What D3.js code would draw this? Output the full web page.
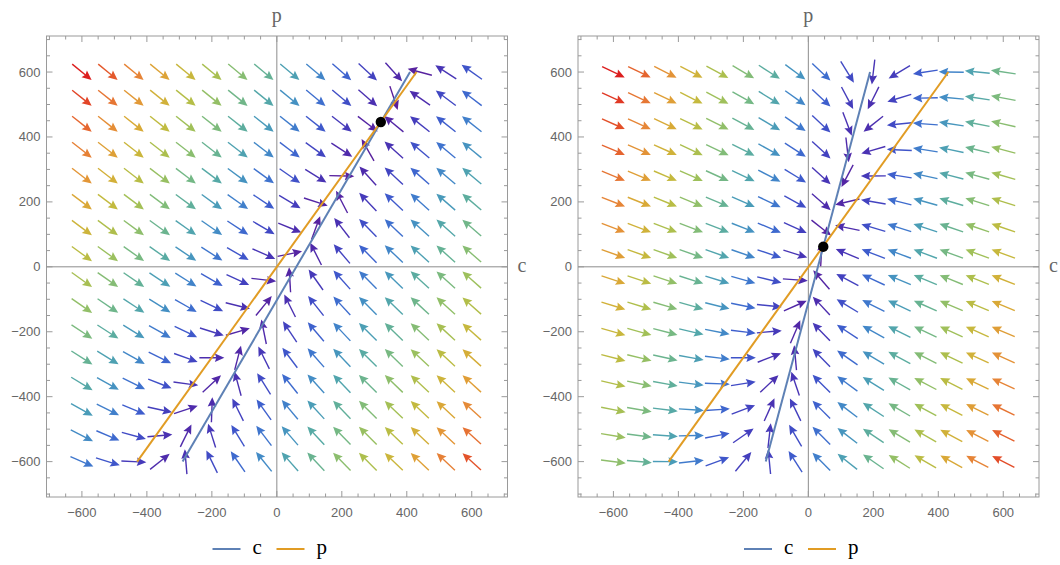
<!DOCTYPE html>
<html>
<head>
<meta charset="utf-8">
<script src="https://cdn.jsdelivr.net/npm/d3@7"></script>
<style>
  html, body { margin: 0; padding: 0; background: #fff; }
  svg { display: block; }
</style>
</head>
<body>
<svg id="chart" width="1060" height="565"></svg>
<script>
// Grid of sample points for the direction field (both axes)
const gridValues = [-600, -520, -440, -360, -280, -200, -120, -40, 40, 120, 200, 280, 360, 440, 520, 600];
// Axis tick labels
const tickValues = [-600, -400, -200, 0, 200, 400, 600];

// Nullcline of c (dc/dt = 0): endpoints [c, p]
const cNullclineLeft  = [[-290, -600], [410, 600]];
const cNullclineRight = [[-131, -600], [190, 600]];
// Nullcline of p (dp/dt = 0): endpoints [c, p]
const pNullclineLeft  = [[-430, -600], [430, 600]];
const pNullclineRight = [[-430, -600], [431, 600]];
// Equilibria [c, p]
const equilibriumLeft  = [320, 446];
const equilibriumRight = [46, 62];
// Relative speed of p against c
const pRateLeft  = [0.57];
const pRateRight = [0.26];

const panels = [
  { x0: 46.5, cNull: cNullclineLeft,  pNull: pNullclineLeft,  eq: equilibriumLeft,  rate: pRateLeft[0] },
  { x0: 578,  cNull: cNullclineRight, pNull: pNullclineRight, eq: equilibriumRight, rate: pRateRight[0] }
];

const W = 461, H = 461, plotTop = 36;
const svg = d3.select("#chart");

// Rainbow colour ramp (low speed = violet, high speed = red)
const rainbow = d3.interpolateRgbBasis([
  "#5a1f9b", "#4a2db0", "#3f4cc8", "#3d6cd2", "#4390c6", "#4fa6ae", "#6ab58f",
  "#8ec06c", "#aec04a", "#cdb83a", "#e0a235", "#e8843a", "#e55b2b", "#dc1f1f"
]);

// c on a straight line through two [c, p] points, as a function of p
function lineC(pts, p) {
  const [a, b] = pts;
  return a[0] + (p - a[1]) * (b[0] - a[0]) / (b[1] - a[1]);
}

panels.forEach(pn => {
  const g = svg.append("g").attr("transform", `translate(${pn.x0},${plotTop})`);
  const x = d3.scaleLinear().domain([-709, 710]).range([0, W]);
  const y = d3.scaleLinear().domain([-709, 711]).range([H, 0]);

  // frame
  g.append("rect").attr("width", W).attr("height", H)
    .attr("fill", "none").attr("stroke", "#9a9a9a").attr("stroke-width", 1);

  // zero axes
  g.append("line").attr("x1", x(0)).attr("x2", x(0)).attr("y1", 0).attr("y2", H)
    .attr("stroke", "#8c8c8c").attr("stroke-width", 1);
  g.append("line").attr("x1", 0).attr("x2", W).attr("y1", y(0)).attr("y2", y(0))
    .attr("stroke", "#8c8c8c").attr("stroke-width", 1);

  // frame ticks: major every 200, minor every 50
  const minor = d3.range(-700, 701, 50);
  const tk = g.append("g").attr("stroke", "#9a9a9a").attr("stroke-width", 1);
  minor.forEach(v => {
    const len = (v % 200 === 0) ? 6 : 3.5;
    const px = x(v), py = y(v);
    tk.append("line").attr("x1", px).attr("x2", px).attr("y1", H).attr("y2", H - len);
    tk.append("line").attr("x1", px).attr("x2", px).attr("y1", 0).attr("y2", len);
    tk.append("line").attr("x1", 0).attr("x2", len).attr("y1", py).attr("y2", py);
    tk.append("line").attr("x1", W).attr("x2", W - len).attr("y1", py).attr("y2", py);
  });

  const fmt = v => (v < 0 ? "\u2212" + Math.abs(v) : String(v));
  tickValues.forEach(v => {
    g.append("text").attr("x", x(v)).attr("y", H + 20)
      .attr("text-anchor", "middle").attr("fill", "#666")
      .style("font", "13px 'Liberation Sans', Arial, sans-serif").text(fmt(v));
    g.append("text").attr("x", -6).attr("y", y(v) + 4.5)
      .attr("text-anchor", "end").attr("fill", "#666")
      .style("font", "13px 'Liberation Sans', Arial, sans-serif").text(fmt(v));
  });

  // axis labels
  g.append("text").attr("x", x(0)).attr("y", -14).attr("text-anchor", "middle")
    .attr("fill", "#666").style("font", "20px 'Liberation Serif', 'Times New Roman', serif").text("p");
  g.append("text").attr("x", W + 10).attr("y", y(0) + 5).attr("text-anchor", "start")
    .attr("fill", "#666").style("font", "20px 'Liberation Serif', 'Times New Roman', serif").text("c");

  // direction field
  const pSlope = (pn.pNull[1][1] - pn.pNull[0][1]) / (pn.pNull[1][0] - pn.pNull[0][0]);
  const vecs = [];
  gridValues.forEach(c => gridValues.forEach(p => {
    const dc = -(c - lineC(pn.cNull, p));
    const pOnNull = pn.pNull[0][1] + (c - pn.pNull[0][0]) * pSlope;
    const dp = -pn.rate * (p - pOnNull);
    vecs.push({ c, p, dc, dp, n: Math.hypot(dc, dp) });
  }));
  const nExt = d3.extent(vecs, d => d.n);
  const col = d3.scaleLinear().domain(nExt).range([0, 1]);

  const L = 25, headL = 9.5, headW = 4.3;
  const field = g.append("g");
  vecs.forEach(v => {
    const ux0 = v.dc, uy0 = -v.dp;
    const m = Math.hypot(ux0, uy0) || 1;
    const ux = ux0 / m, uy = uy0 / m;
    const cx = x(v.c), cy = y(v.p);
    const tx = cx - ux * L / 2, ty = cy - uy * L / 2;
    const hx = cx + ux * L / 2, hy = cy + uy * L / 2;
    const bx = hx - ux * headL, by = hy - uy * headL;
    const color = rainbow(col(v.n));
    field.append("line").attr("x1", tx).attr("y1", ty)
      .attr("x2", bx + ux * 2).attr("y2", by + uy * 2)
      .attr("stroke", color).attr("stroke-width", 1.4);
    field.append("path")
      .attr("d", `M${hx},${hy}L${bx - uy * headW},${by + ux * headW}L${bx + ux * 1.5},${by + uy * 1.5}L${bx + uy * headW},${by - ux * headW}Z`)
      .attr("fill", color);
  });

  // nullclines
  const line = d3.line().x(d => x(d[0])).y(d => y(d[1]));
  g.append("path").datum(pn.cNull).attr("d", line)
    .attr("fill", "none").attr("stroke", "#5e81b5").attr("stroke-width", 2);
  g.append("path").datum(pn.pNull).attr("d", line)
    .attr("fill", "none").attr("stroke", "#e19c24").attr("stroke-width", 2);

  // equilibrium
  g.append("circle").attr("cx", x(pn.eq[0])).attr("cy", y(pn.eq[1])).attr("r", 5.2).attr("fill", "#000");

  // legend
  const lg = svg.append("g").attr("transform", `translate(${pn.x0 + 166},549)`);
  const items = [["c", "#5e81b5"], ["p", "#e19c24"]];
  items.forEach((it, i) => {
    const ox = i * 64;
    lg.append("line").attr("x1", ox).attr("x2", ox + 28).attr("y1", 0).attr("y2", 0)
      .attr("stroke", it[1]).attr("stroke-width", 2);
    lg.append("text").attr("x", ox + 40).attr("y", 5).attr("fill", "#000")
      .style("font", "21px 'Liberation Serif', 'Times New Roman', serif").text(it[0]);
  });
});
</script>
</body>
</html>
